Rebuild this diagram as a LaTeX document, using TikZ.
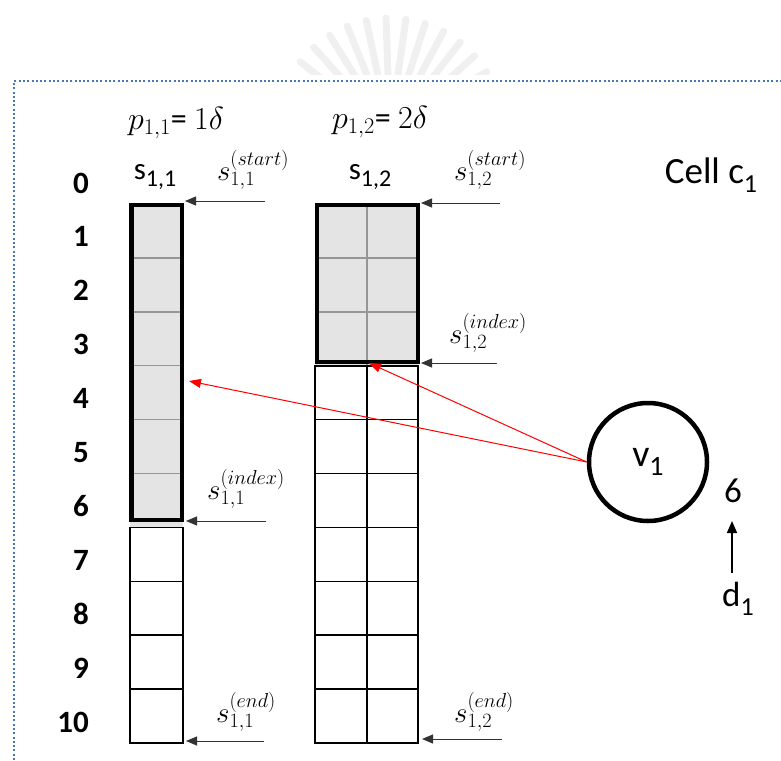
\RequirePackage{fix-cm}
\documentclass[tikz,border=0pt]{standalone}
\usepackage{fontspec}
\setmainfont{Carlito}
\usetikzlibrary{arrows.meta}
\newcommand{\fs}[1]{\fontsize{#1}{#1}\selectfont}
\newcommand{\lsub}[2]{\raisebox{-0.24em}{\fs{#1}#2}}
\definecolor{cellgray}{RGB}{228,228,228}
\definecolor{gridgray}{RGB}{150,150,150}
\definecolor{dotblue}{RGB}{70,120,180}
\tikzset{
  rowlab/.style={anchor=east, inner sep=0pt, font=\fs{31}\bfseries},
  mlab/.style={inner sep=0pt, font=\fs{29}},
  plab/.style={inner sep=0pt, font=\fs{32}},
  tlab/.style={inner sep=0pt, font=\fs{31}},
  blackline/.style={line width=1.6pt, draw=black},
  grayline/.style={line width=1.5pt, draw=gridgray},
  thickbox/.style={line width=4.2pt, draw=black},
  ptr/.style={line width=1pt, draw=black!80, -{Triangle[length=11pt,width=9pt]}},
  redptr/.style={line width=1pt, draw=red, -{Triangle[length=12pt,width=9pt]}},
  wray/.style={line width=7pt, draw=black!6, line cap=round}
}
\begin{document}
\begin{tikzpicture}[x=1pt,y=-1pt]
\useasboundingbox (0,0) rectangle (781,760);
% watermark
\begin{scope}
  \clip (250,0) rectangle (530,74);
  \foreach \a in {32,42,...,150}
    \draw[wray] ({390+58*cos(\a)},{132-58*sin(\a)}) -- ({390+114*cos(\a)},{132-114*sin(\a)});
\end{scope}
% dotted frame
\draw[dotblue, line width=2pt, dash pattern=on 2pt off 2.3pt] (14,760) -- (14,81) -- (781,81);
% row labels
\foreach \i in {0,...,10}
  \node[rowlab] (r\i) at (89,{183+\i*53.9}) {\i};
% column 1
\fill[cellgray] (130,204) rectangle (183,{204+6*53.9});
\foreach \i in {1,...,5}
  \draw[grayline] (130,{204+\i*53.9}) -- (183,{204+\i*53.9});
\foreach \i in {6,...,9}
  \draw[blackline] (130,{204+\i*53.9}) rectangle (183,{204+(\i+1)*53.9});
\draw[thickbox] (131.5,205) rectangle (182,520);
% column 2
\fill[cellgray] (315,204) rectangle (418,{204+3*53.9});
\foreach \i in {1,2}
  \draw[grayline] (315,{204+\i*53.9}) -- (418,{204+\i*53.9});
\draw[grayline] (367,204) -- (367,{204+3*53.9});
\foreach \i in {3,...,9} {
  \draw[blackline] (315,{204+\i*53.9}) rectangle (367,{204+(\i+1)*53.9});
  \draw[blackline] (367,{204+\i*53.9}) rectangle (418,{204+(\i+1)*53.9});
}
\draw[thickbox] (317,205) rectangle (418,362);
% headings
\node[plab] (p11) at (176,123) {$p_{1,1}$= $1\delta$};
\node[plab] (p12) at (380,122) {$p_{1,2}$= $2\delta$};
\node[tlab] (h11) at (155,177) {s\lsub{24}{1,1}};
\node[tlab] (h12) at (370,177) {s\lsub{24}{1,2}};
\node[inner sep=0pt, font=\fs{37}] (cell) at (711,175) {Cell c\lsub{26}{1}};
% pointer labels
\node[mlab] (l11s) at (253,170) {$s_{1,1}^{(start)}$};
\node[mlab] (l12s) at (490,170) {$s_{1,2}^{(start)}$};
\node[mlab] (l12i) at (488,333) {$s_{1,2}^{(index)}$};
\node[mlab] (l11i) at (246,489) {$s_{1,1}^{(index)}$};
\node[mlab] (l11e) at (246,712) {$s_{1,1}^{(end)}$};
\node[mlab] (l12e) at (484,712) {$s_{1,2}^{(end)}$};
% pointer coordinates
\coordinate (a11s) at (265,201); \coordinate (t11s) at (185,201);
\coordinate (a12s) at (500,203); \coordinate (t12s) at (421,203);
\coordinate (a12i) at (497,363); \coordinate (t12i) at (421,363);
\coordinate (a11i) at (266,521); \coordinate (t11i) at (186,521);
\coordinate (a11e) at (264,741); \coordinate (t11e) at (186,741);
\coordinate (a12e) at (502,739); \coordinate (t12e) at (422,739);
\draw[ptr] (a11s) -- (t11s);
\draw[ptr] (a12s) -- (t12s);
\draw[ptr] (a12i) -- (t12i);
\draw[ptr] (a11i) -- (t11i);
\draw[ptr] (a11e) -- (t11e);
\draw[ptr] (a12e) -- (t12e);
% vertex
\node[circle, draw, line width=4.5pt, minimum size=118pt, inner sep=0pt, font=\fs{38}] (v1) at (648,462) {v\lsub{28}{1}};
\coordinate (rt1) at (189,381);
\coordinate (rt2) at (369,363);
\draw[redptr] (v1.west) -- (rt1);
\draw[redptr] (v1.west) -- (rt2);
% demand
\node[inner sep=0pt, font=\fs{35}] (six) at (733,491) {6};
\node[inner sep=0pt, font=\fs{35}] (d1) at (738,599) {d\lsub{26}{1}};
\coordinate (dA) at (732,573);
\coordinate (dT) at (732,521);
\draw[line width=1.6pt, -{Triangle[length=12pt,width=10pt]}] (dA) -- (dT);
\end{tikzpicture}
\end{document}
